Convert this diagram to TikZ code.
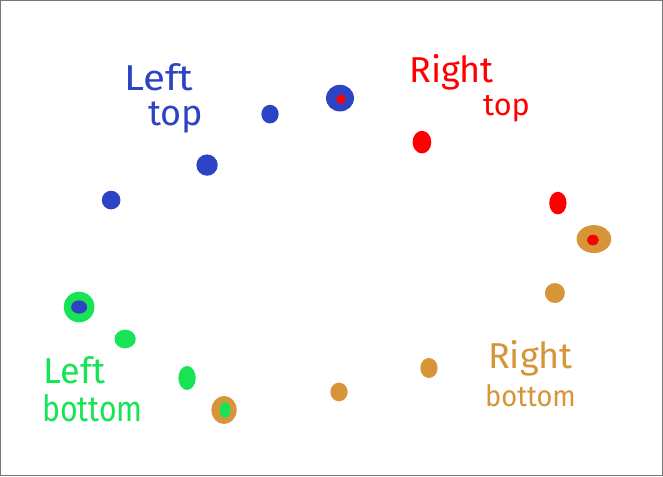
\documentclass[tikz,border=0pt]{standalone}
\usepackage{fontspec}
\setmainfont{Fira Sans}
\usetikzlibrary{shapes.geometric}
\definecolor{dblue}{HTML}{2C44C4}
\definecolor{dred}{HTML}{FF0000}
\definecolor{dgreen}{HTML}{17E455}
\definecolor{dorange}{HTML}{D69538}
\definecolor{frame}{HTML}{777777}
\begin{document}
\begin{tikzpicture}[x=0.75pt,y=-0.75pt,
  dot/.style={ellipse,inner sep=0pt,fill=#1,draw=none},
  lbl/.style={text=#1,font=\fontsize{27}{27}\selectfont,inner sep=0pt,align=left}]
\fill[white] (0,0) rectangle (663,476);
\draw[frame,line width=1pt] (0.5,0.5) rectangle (662.5,475.5);
% blue dots
\node[dot=dblue,minimum width=14,minimum height=14] (b1) at (111,200) {};
\node[dot=dblue,minimum width=16,minimum height=16] (b2) at (207,165) {};
\node[dot=dblue,minimum width=13,minimum height=14] (b3) at (270,114) {};
\node[dot=dblue,minimum width=21,minimum height=20] (b4) at (340,98) {};
\node[dot=dred,minimum width=7,minimum height=7] (b4c) at (341,99) {};
% red dots
\node[dot=dred,minimum width=14,minimum height=17] (r1) at (422,142) {};
\node[dot=dred,minimum width=13,minimum height=17] (r2) at (558,203) {};
\node[dot=dorange,minimum width=26,minimum height=21] (r3) at (594,239) {};
\node[dot=dred,minimum width=9,minimum height=8] (r3c) at (593,240) {};
% orange dots
\node[dot=dorange,minimum width=15,minimum height=15] (o1) at (555,293) {};
\node[dot=dorange,minimum width=13,minimum height=15] (o2) at (429,368) {};
\node[dot=dorange,minimum width=13,minimum height=14] (o3) at (339,392) {};
\node[dot=dorange,minimum width=19,minimum height=21] (o4) at (224,410) {};
\node[dot=dgreen,minimum width=8,minimum height=12] (o4c) at (225,410) {};
% green dots
\node[dot=dgreen,minimum width=13,minimum height=18] (g1) at (187,378) {};
\node[dot=dgreen,minimum width=16,minimum height=14] (g2) at (125,339) {};
\node[dot=dgreen,minimum width=23,minimum height=23] (g3) at (79,307) {};
\node[dot=dblue,minimum width=12,minimum height=10] (g3c) at (79,307) {};
% labels
\node[lbl=dblue,anchor=north west,xscale=1.12] (lt1) at (124,63) {Left};
\node[lbl=dblue,anchor=north west] (lt2) at (148,101) {top};
\node[lbl=dred,anchor=north west] (rt1) at (409,54) {Right};
\node[lbl=dred,anchor=north west,font=\fontsize{23}{23}\selectfont] (rt2) at (483,95) {top};
\node[lbl=dgreen,anchor=north west] (lb1) at (43,356) {Left};
\node[lbl=dgreen,anchor=north west,xscale=0.84] (lb2) at (42,394) {bottom};
\node[lbl=dorange,anchor=north west] (rb1) at (488,340) {Right};
\node[lbl=dorange,anchor=north west,font=\fontsize{22}{22}\selectfont,xscale=0.93] (rb2) at (485,384) {bottom};
\end{tikzpicture}
\end{document}
